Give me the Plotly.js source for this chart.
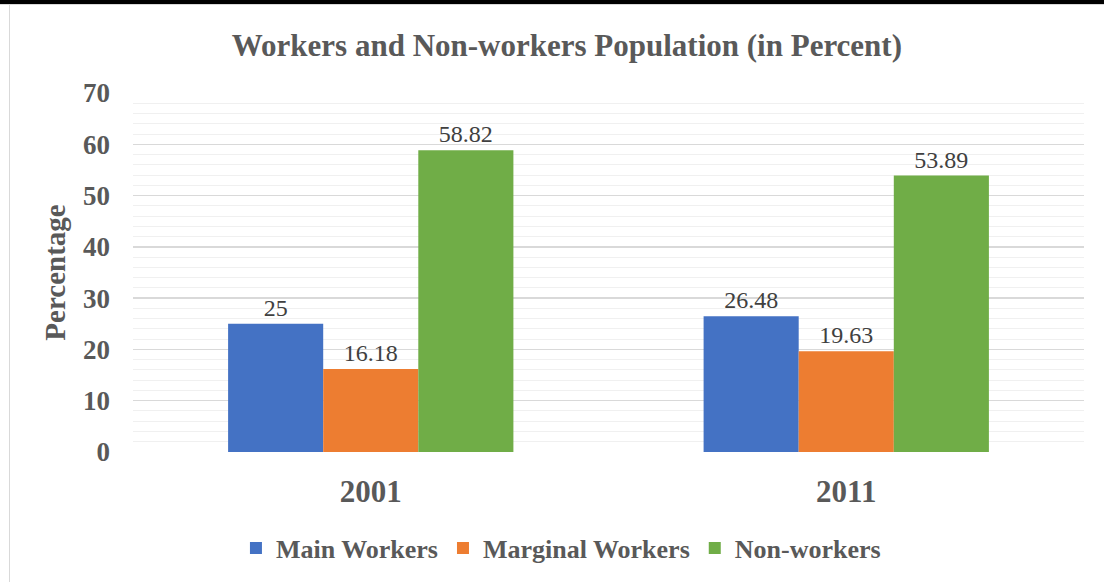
<!DOCTYPE html>
<html>
<head>
<meta charset="utf-8">
<script src="https://cdn.plot.ly/plotly-3.0.1.min.js"></script>
<style>
  body { margin: 0; background: #fff; }
  #frame { position: absolute; left: 0; top: 0; width: 1104px; height: 582px; }
  #topbar { position: absolute; left: 0; top: 0; width: 1104px; height: 4px; background: #000; border-bottom: 1px solid #d9d9d9; z-index: 2; }
  #leftline { position: absolute; left: 9px; top: 5px; width: 1px; height: 577px; background: #d9d9d9; z-index: 2; }
  #fig { width: 1104px; height: 582px; }
</style>
</head>
<body>
<div id="frame">
  <div id="topbar"></div>
  <div id="leftline"></div>
  <div id="fig"></div>
</div>
<script>
  // census years on the x axis
  const years = ['2001', '2011'];
  // share of the population, in percent
  const mainWorkers = [25, 26.48];
  const marginalWorkers = [16.18, 19.63];
  const nonWorkers = [58.82, 53.89];

  const grey = '#595959';
  const serif = '"Liberation Serif", "Times New Roman", serif';

  function bar (name, vals, col) {
    return { type: 'bar', name: '<b>' + name + '</b>', x: years, y: vals,
             marker: { color: col },
             text: vals.map(String), textposition: 'outside',
             textfont: { family: serif, size: 24, color: '#404040' },
             cliponaxis: false };
  }

  const series = [
    bar('Main Workers', mainWorkers, '#4472C4'),
    bar('Marginal Workers', marginalWorkers, '#ED7D31'),
    bar('Non-workers', nonWorkers, '#70AD47')
  ];

  const layout = {
    width: 1104, height: 582,
    margin: { l: 133, r: 20, t: 93, b: 129 },
    paper_bgcolor: '#fff', plot_bgcolor: '#fff',
    font: { family: serif, color: grey },
    title: { text: '<b>Workers and Non-workers Population (in Percent)</b>',
             font: { size: 31, color: grey, family: serif },
             x: 0.5135, xanchor: 'center', y: 0.923, yanchor: 'middle' },
    barmode: 'group', bargap: 0.4, bargroupgap: 0,
    xaxis: { type: 'category', showgrid: false, zeroline: false, showline: false,
             tickfont: { size: 31, color: grey, family: serif },
             ticklabelstandoff: 18, tickprefix: '<b>', ticksuffix: '</b>' },
    yaxis: { range: [0, 70], dtick: 10, showline: false, zeroline: false,
             gridcolor: '#d9d9d9', gridwidth: 1.5,
             minor: { dtick: 2, showgrid: true, gridcolor: '#f0f0f0', gridwidth: 1 },
             tickfont: { size: 27, color: grey, family: serif },
             tickprefix: '<b>', ticksuffix: '</b>', ticklabelstandoff: 22,
             title: { text: '<b>Percentage</b>', standoff: 8,
                      font: { size: 29, color: grey, family: serif } } },
    showlegend: true,
    legend: { orientation: 'h', x: 0.45, xanchor: 'center', y: -0.264, yanchor: 'middle',
              font: { size: 26, color: grey, family: serif }, itemwidth: 30,
              traceorder: 'normal' }
  };

  Plotly.newPlot('fig', series, layout, { displayModeBar: false, staticPlot: true });
</script>
</body>
</html>
